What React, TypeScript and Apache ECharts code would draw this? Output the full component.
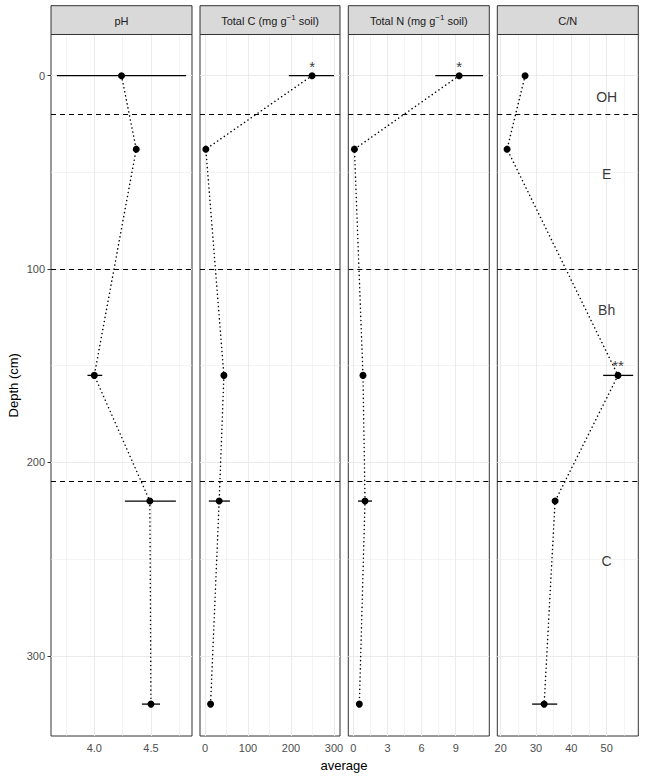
import React, { useEffect, useRef } from "react";
import * as echarts from "echarts";

// ---- data ----
const depth = [0, 38, 155, 220, 325];

const phMean = [4.24, 4.37, 4.0, 4.49, 4.5];
const phLo = [3.67, null, 3.94, 4.27, 4.42];
const phHi = [4.81, null, 4.07, 4.72, 4.58];

const tcMean = [249, 2, 44, 33, 13];
const tcLo = [195, null, 39, 9, null];
const tcHi = [300, null, 50, 58, null];

const tnMean = [9.3, 0.1, 0.85, 1.03, 0.53];
const tnLo = [7.2, null, 0.72, 0.41, null];
const tnHi = [11.4, null, 0.98, 1.64, null];

const cnMean = [26.9, 21.8, 53.2, 35.4, 32.3];
const cnLo = [null, null, 49.0, null, 28.9];
const cnHi = [null, null, 57.5, null, 36.0];

const starsC = [{ x: 249, d: -5, t: "*" }];
const starsN = [{ x: 9.3, d: -5, t: "*" }];
const starsCN = [{ x: 53.2, d: 150, t: "**" }];

const horizonLabels = ["OH", "E", "Bh", "C"];
const horizonDepths = [11, 51, 121, 251];
const horizonX = 50;
const boundaries = [20, 100, 210];

const depthTicks = [0, 100, 200, 300];
const depthMinor = [50, 150, 250];

const phTicks = [4.0, 4.5];
const phMinor = [3.75, 4.25, 4.75];
const tcTicks = [0, 100, 200, 300];
const tcMinor = [50, 150, 250];
const tnTicks = [0, 3, 6, 9];
const tnMinor = [1.5, 4.5, 7.5, 10.5];
const cnTicks = [20, 30, 40, 50];
const cnMinor = [25, 35, 45, 55];

const stripTitles = [
  "{a|pH}",
  "{a|Total C (mg g}{s|−1}{a| soil)}",
  "{a|Total N (mg g}{s|−1}{a| soil)}",
  "{a|C/N}",
];

// ---- layout ----
const FONT = "Liberation Sans, Arial, Helvetica, sans-serif";
const PANEL_TOP = 34.5;
const PANEL_H = 701.5;
const Y_MIN = -21.3;
const Y_MAX = 341.5;

const panels = [
  { mean: phMean, lo: phLo, hi: phHi, ticks: phTicks, minor: phMinor, min: 3.618, max: 4.862, fmt: (v: number) => v.toFixed(1), left: 51, width: 141, stars: [] as any[] },
  { mean: tcMean, lo: tcLo, hi: tcHi, ticks: tcTicks, minor: tcMinor, min: -11.6, max: 314, fmt: (v: number) => String(v), left: 200, width: 140, stars: starsC },
  { mean: tnMean, lo: tnLo, hi: tnHi, ticks: tnTicks, minor: tnMinor, min: -0.44, max: 11.95, fmt: (v: number) => String(v), left: 348.3, width: 141, stars: starsN },
  { mean: cnMean, lo: cnLo, hi: cnHi, ticks: cnTicks, minor: cnMinor, min: 19.04, max: 58.95, fmt: (v: number) => String(v), left: 497.3, width: 141, stars: starsCN },
];

function buildOption() {
  const grid: any[] = [];
  const xAxis: any[] = [];
  const yAxis: any[] = [];
  const series: any[] = [];
  const graphic: any[] = [];

  panels.forEach((p, i) => {
    grid.push({
      left: p.left,
      top: PANEL_TOP,
      width: p.width,
      height: PANEL_H,
      show: true,
      backgroundColor: "#ffffff",
      borderColor: "#333333",
      borderWidth: 1,
    });
    xAxis.push({
      type: "value",
      gridIndex: i,
      min: p.min,
      max: p.max,
      axisLine: { show: false },
      axisTick: { show: true, customValues: p.ticks, length: 3.5, lineStyle: { color: "#333333", width: 1 } },
      axisLabel: {
        show: true,
        customValues: p.ticks,
        formatter: p.fmt,
        color: "#4D4D4D",
        fontSize: 11,
        fontFamily: FONT,
        margin: 6,
      },
      splitLine: { show: false },
    });
    yAxis.push({
      type: "value",
      gridIndex: i,
      inverse: true,
      min: Y_MIN,
      max: Y_MAX,
      axisLine: { show: false },
      axisTick: { show: i === 0, customValues: depthTicks, length: 3.5, lineStyle: { color: "#333333", width: 1 } },
      axisLabel: {
        show: i === 0,
        customValues: depthTicks,
        color: "#4D4D4D",
        fontSize: 11,
        fontFamily: FONT,
        margin: 6,
      },
      splitLine: { show: false },
    });

    const gridLines: any[] = [];
    p.minor.forEach((v) => gridLines.push({ xAxis: v, lineStyle: { width: 0.55 } }));
    depthMinor.forEach((v) => gridLines.push({ yAxis: v, lineStyle: { width: 0.55 } }));
    p.ticks.forEach((v) => gridLines.push({ xAxis: v, lineStyle: { width: 1.1 } }));
    depthTicks.forEach((v) => gridLines.push({ yAxis: v, lineStyle: { width: 1.1 } }));

    series.push({
      type: "scatter",
      xAxisIndex: i,
      yAxisIndex: i,
      data: [],
      silent: true,
      z: 1,
      markLine: {
        silent: true,
        symbol: ["none", "none"],
        label: { show: false },
        lineStyle: { color: "#EBEBEB", type: "solid" },
        data: gridLines,
        z: 1,
      },
    });

    series.push({
      type: "scatter",
      xAxisIndex: i,
      yAxisIndex: i,
      data: [],
      silent: true,
      z: 2,
      markLine: {
        silent: true,
        symbol: ["none", "none"],
        label: { show: false },
        lineStyle: { color: "#000000", type: [5, 4], width: 1.1 },
        data: boundaries.map((b) => ({ yAxis: b })),
        z: 2,
      },
    });

    const errData: any[] = [];
    depth.forEach((d, k) => {
      if (p.lo[k] != null && p.hi[k] != null) errData.push([p.lo[k], p.hi[k], d]);
    });
    series.push({
      type: "custom",
      xAxisIndex: i,
      yAxisIndex: i,
      z: 3,
      silent: true,
      data: errData,
      encode: { x: [0, 1], y: 2 },
      renderItem: (params: any, api: any) => {
        const a = api.coord([api.value(0), api.value(2)]);
        const b = api.coord([api.value(1), api.value(2)]);
        return {
          type: "line",
          shape: { x1: a[0], y1: a[1], x2: b[0], y2: b[1] },
          style: { stroke: "#000000", lineWidth: 1.3 },
        };
      },
    });

    series.push({
      type: "line",
      xAxisIndex: i,
      yAxisIndex: i,
      z: 4,
      data: depth.map((d, k) => [p.mean[k], d]),
      symbol: "circle",
      symbolSize: 7,
      showSymbol: true,
      itemStyle: { color: "#000000" },
      lineStyle: { color: "#000000", width: 1.5, type: [0.1, 4], cap: "round" },
      silent: true,
    });

    if (p.stars.length) {
      series.push({
        type: "scatter",
        xAxisIndex: i,
        yAxisIndex: i,
        z: 5,
        symbolSize: 0,
        silent: true,
        data: p.stars.map((s: any) => [s.x, s.d, s.t]),
        label: {
          show: true,
          position: "inside",
          formatter: (q: any) => q.data[2],
          color: "#000000",
          textBorderWidth: 0,
          fontSize: 15,
          fontFamily: FONT,
        },
      });
    }

    graphic.push({
      type: "rect",
      shape: { x: p.left, y: 5.7, width: p.width, height: PANEL_TOP - 5.7 },
      style: { fill: "#D9D9D9", stroke: "#333333", lineWidth: 1 },
      z: 10,
    });
    graphic.push({
      type: "text",
      x: p.left + p.width / 2,
      y: (5.7 + PANEL_TOP) / 2 + 0.5,
      z: 11,
      style: {
        text: stripTitles[i],
        align: "center",
        verticalAlign: "middle",
        fill: "#1A1A1A",
        rich: {
          a: { fontSize: 11, fontFamily: FONT, fill: "#1A1A1A", lineHeight: 15 },
          s: { fontSize: 8, fontFamily: FONT, fill: "#1A1A1A", lineHeight: 8, verticalAlign: "top" },
        },
      },
    });
  });

  // horizon labels in the last panel
  series.push({
    type: "scatter",
    xAxisIndex: 3,
    yAxisIndex: 3,
    z: 5,
    symbolSize: 0,
    silent: true,
    data: horizonLabels.map((t, k) => [horizonX, horizonDepths[k], t]),
    label: {
      show: true,
      position: "inside",
      formatter: (q: any) => q.data[2],
      color: "#000000",
      textBorderWidth: 0,
      fontSize: 14,
      fontFamily: FONT,
    },
  });

  graphic.push({
    type: "text",
    x: 13,
    y: PANEL_TOP + PANEL_H / 2,
    rotation: Math.PI / 2,
    style: {
      text: "Depth (cm)",
      align: "center",
      verticalAlign: "middle",
      fill: "#000000",
      fontSize: 13,
      fontFamily: FONT,
    },
  });
  graphic.push({
    type: "text",
    x: 344,
    y: 765,
    style: {
      text: "average",
      align: "center",
      verticalAlign: "middle",
      fill: "#000000",
      fontSize: 13,
      fontFamily: FONT,
    },
  });

  return {
    animation: false,
    backgroundColor: "#ffffff",
    grid,
    xAxis,
    yAxis,
    series,
    graphic,
  };
}

export default function App() {
  const ref = useRef<HTMLDivElement>(null);
  useEffect(() => {
    if (!ref.current) return;
    const chart = echarts.init(ref.current, undefined, { renderer: "svg" });
    chart.setOption(buildOption() as any);
    return () => chart.dispose();
  }, []);
  return (
    <div
      ref={ref}
      style={{ position: "absolute", left: 0, top: 0, width: 645, height: 779 }}
    />
  );
}
